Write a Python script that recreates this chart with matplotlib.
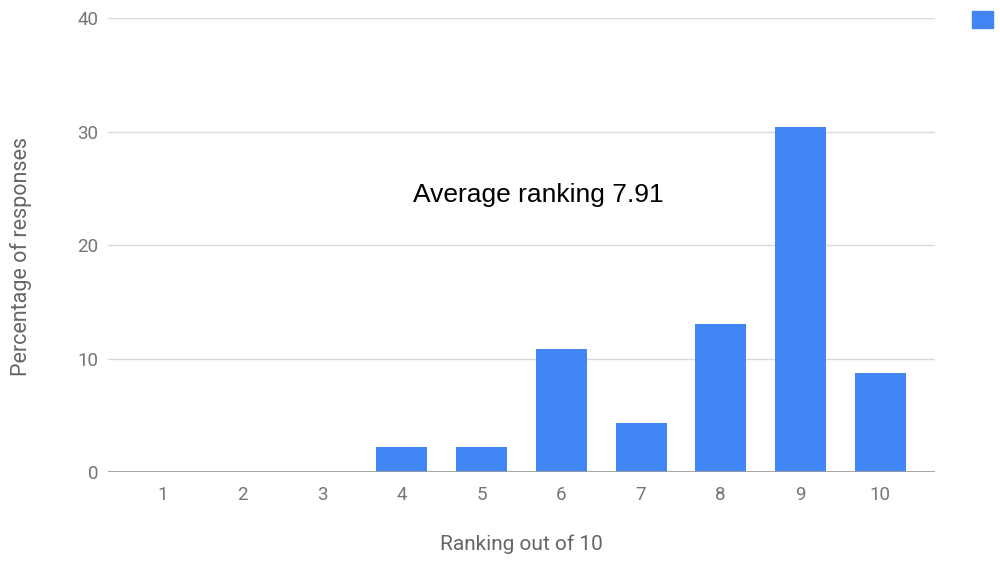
import matplotlib.pyplot as plt
from matplotlib.patches import Patch

rankings = [1, 2, 3, 4, 5, 6, 7, 8, 9, 10]
percentages = [0, 0, 0, 2.17, 2.17, 10.87, 4.35, 13.04, 30.43, 8.70]
y_ticks = [0, 10, 20, 30, 40]
average_ranking = 7.91

bar_color = '#4285F4'
tick_color = '#757575'
label_color = '#666666'

plt.rcParams['font.family'] = ['Roboto', 'DejaVu Sans']

fig = plt.figure(figsize=(10, 5.62), dpi=100)
ax = fig.add_axes([0.108, 0.160, 0.827, 0.808])

ax.bar(rankings, percentages, width=0.64, color=bar_color, zorder=3)

ax.set_xlim(0.31, 10.69)
ax.set_ylim(0, 40)
ax.set_xticks(rankings)
ax.set_yticks(y_ticks)
ax.grid(axis='y', color='#dadada', linewidth=1, zorder=0)
ax.axhline(0, color='#9e9e9e', linewidth=2, zorder=4)

for side in ['top', 'right', 'left', 'bottom']:
    ax.spines[side].set_visible(False)
ax.tick_params(axis='both', length=0, labelsize=13.5, labelcolor=tick_color)
ax.tick_params(axis='y', pad=7)
ax.tick_params(axis='x', pad=10)

ax.set_xlabel('Ranking out of 10', fontsize=15, color=label_color, labelpad=22)
ax.set_ylabel('Percentage of responses', fontsize=15.5, color=label_color, labelpad=40)
ax.yaxis.set_label_coords(-0.092, 0.475)

ax.text(0.52, 0.61, f'Average ranking {average_ranking}', transform=ax.transAxes,
        ha='center', va='center', fontsize=19, color='black',
        family=['Liberation Sans', 'DejaVu Sans'])

fig.legend(handles=[Patch(color=bar_color)], labels=[''], loc='upper left',
           bbox_to_anchor=(0.965, 0.993), frameon=False,
           handlelength=1.5, handleheight=1.5, handletextpad=0, borderpad=0)

fig.savefig('out.png', dpi=100)
